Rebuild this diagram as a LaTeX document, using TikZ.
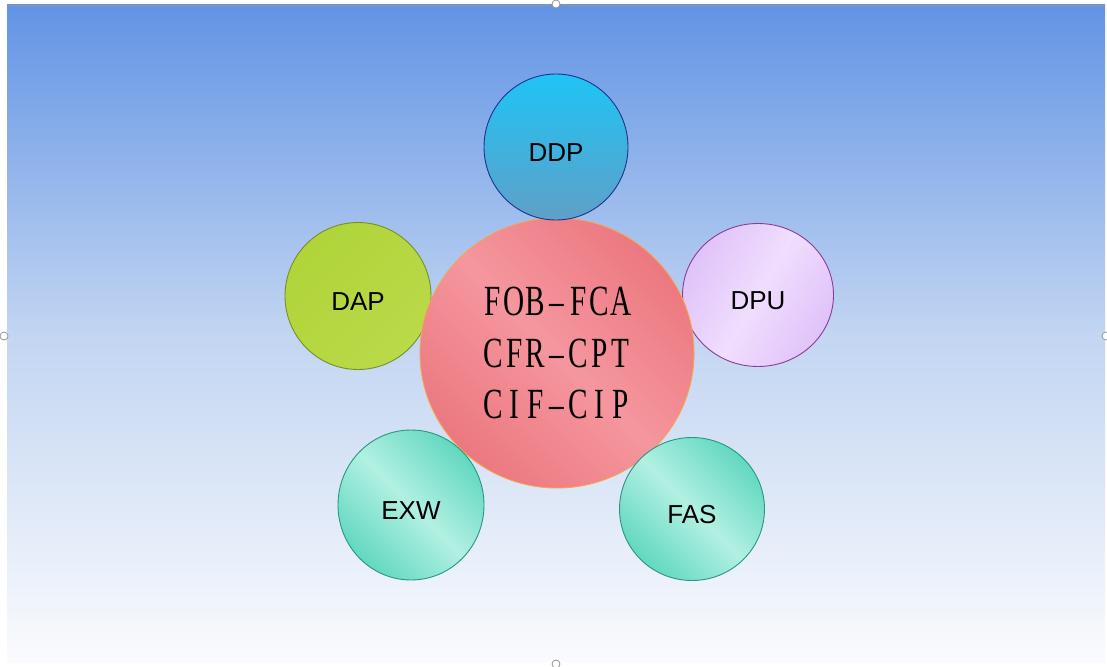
\documentclass[tikz,border=0pt]{standalone}
\usepackage{fontspec}
\setmainfont{Liberation Sans}
\newfontfamily\centerfont[FakeStretch=0.68]{Liberation Serif}
\usetikzlibrary{shapes.geometric}
\newcommand\cellch[1]{\makebox[21.3pt][c]{#1}}
\newcommand\monoline[7]{\cellch{#1}\cellch{#2}\cellch{#3}\cellch{#4}\cellch{#5}\cellch{#6}\cellch{#7}}
\definecolor{bgtop}{RGB}{98,148,229}
\definecolor{bgmid}{RGB}{194,213,242}
\definecolor{bgbot}{RGB}{250,251,253}
\definecolor{ddptop}{RGB}{30,196,245}
\definecolor{ddpbot}{RGB}{95,160,200}
\definecolor{ddpline}{RGB}{30,50,140}
\definecolor{cenA}{RGB}{236,120,128}
\definecolor{cenB}{RGB}{245,150,158}
\definecolor{cenline}{RGB}{245,165,80}
\definecolor{dapA}{RGB}{176,212,58}
\definecolor{dapB}{RGB}{186,218,72}
\definecolor{dapline}{RGB}{115,145,40}
\definecolor{dpuA}{RGB}{224,194,250}
\definecolor{dpuB}{RGB}{240,222,253}
\definecolor{dpuline}{RGB}{140,60,150}
\definecolor{tealA}{RGB}{98,216,192}
\definecolor{tealB}{RGB}{178,240,226}
\definecolor{tealline}{RGB}{40,150,130}
\definecolor{handle}{RGB}{150,150,150}
\tikzset{
  bubble/.style={ellipse, line width=0.9pt, font=\fontsize{26}{30}\selectfont,
    text height=28pt, text depth=0pt, inner sep=0pt},
  handlemark/.style={circle, draw=handle, fill=white, line width=0.8pt, minimum size=8pt, inner sep=0pt}
}
\begin{document}
\begin{tikzpicture}[x=1pt,y=-1pt]
\useasboundingbox (0,0) rectangle (1107,666);
% background
\path[top color=bgtop, bottom color=bgbot, middle color=bgmid] (7,5) rectangle (1105,662);
\draw[handle, line width=0.8pt] (7,5) -- (1105,5);
\node[handlemark] (h1) at (556,4) {};
\node[handlemark] (h2) at (4,336) {};
\node[handlemark] (h3) at (1106,336) {};
\node[handlemark] (h4) at (556,664) {};
% outer bubbles behind center
\node[bubble, draw=dapline, left color=dapA, right color=dapB, shading angle=45,
  minimum width=146pt, minimum height=147pt] (dap) at (358,296) {DAP};
\node[bubble, draw=dpuline, left color=dpuA, right color=dpuA, middle color=dpuB, shading angle=60,
  minimum width=151pt, minimum height=143pt] (dpu) at (758,295) {DPU};
% center
\node[ellipse, draw=cenline, line width=0.9pt, left color=cenA, right color=cenA, middle color=cenB, shading angle=135,
  minimum width=274pt, minimum height=270pt, inner sep=0pt, align=center,
  font=\centerfont\fontsize{43}{51.5}\selectfont] (center) at (557,353)
  {\monoline FOB–FCA\\\monoline CFR–CPT\\\monoline CIF–CIP};
% bubbles above center
\node[bubble, draw=ddpline, top color=ddptop, bottom color=ddpbot,
  minimum width=144pt, minimum height=146pt] (ddp) at (556,147) {DDP};
\node[bubble, draw=tealline, left color=tealA, right color=tealA, middle color=tealB, shading angle=135,
  minimum width=146pt, minimum height=150pt] (exw) at (411,505) {EXW};
\node[bubble, draw=tealline, left color=tealA, right color=tealA, middle color=tealB, shading angle=135,
  minimum width=145pt, minimum height=143pt] (fas) at (692,509) {FAS};
\end{tikzpicture}
\end{document}
